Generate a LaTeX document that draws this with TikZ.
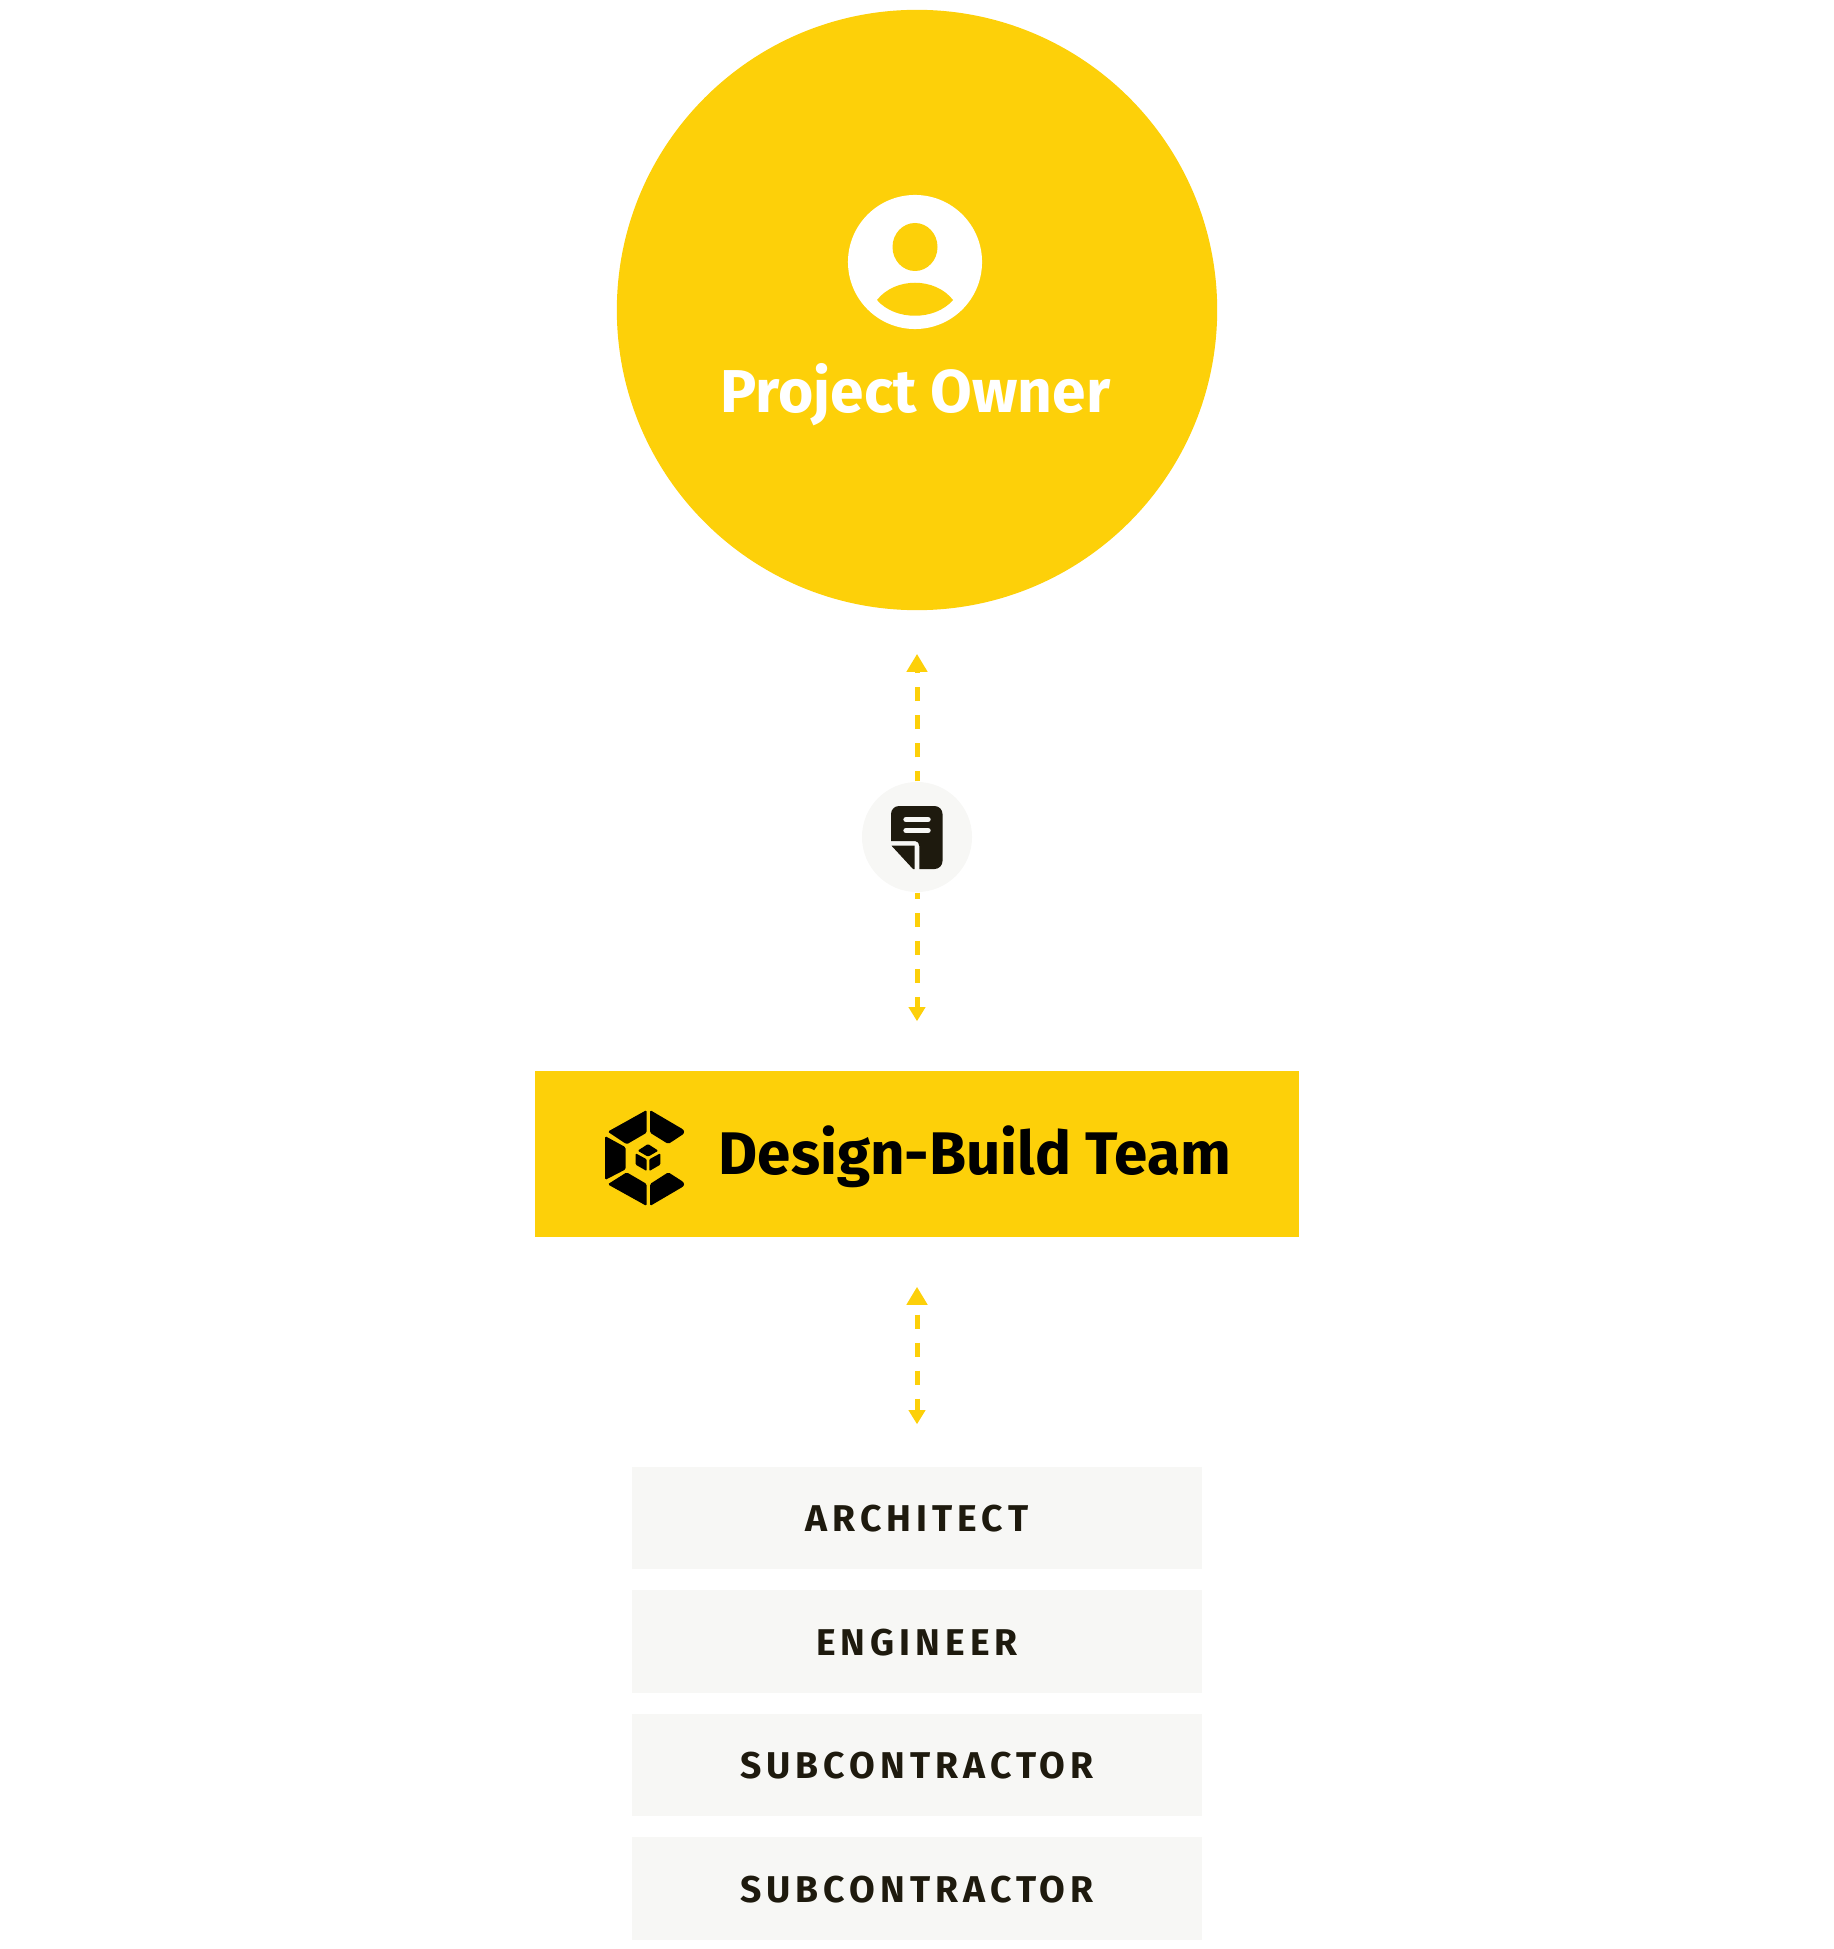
\documentclass[tikz,border=0pt]{standalone}
\usepackage{fontspec}
\setsansfont{Fira Sans}
\newfontfamily\rolefont[LetterSpace=13.5]{Fira Sans}
\usetikzlibrary{arrows.meta, shapes.geometric}
\definecolor{dbyellow}{HTML}{FDD009}
\definecolor{dbgrey}{HTML}{F7F7F5}
\definecolor{dbdark}{HTML}{1E1A0E}
\tikzset{
	rolebox/.style={fill=dbgrey, text=dbdark, minimum width=5.7cm, minimum height=1.02cm, inner sep=0pt, text height=0.277cm, text depth=0pt, font=\rolefont\bfseries\fontsize{10.6}{12}\selectfont},
	linkline/.style={dbyellow, line width=0.05cm, dash pattern=on 0.14cm off 0.14cm},
	bighead/.tip={Triangle[length=0.18cm, width=0.2cm]},
	smallhead/.tip={Triangle[length=0.14cm, width=0.16cm]},
}
\begin{document}
\begin{tikzpicture}[x=0.01cm, y=-0.01cm, font=\sffamily\bfseries]
		\useasboundingbox (0,0) rectangle (1834,1949);
		
		% ---------------------------------------------------------
		% TOP: Owner circle
		% ---------------------------------------------------------
		\node[circle, fill=dbyellow, minimum size=6cm, inner sep=0pt] (owner) at (917,310) {};
		\node[circle, fill=white, minimum size=1.34cm, inner sep=0pt] (person) at (915,262) {};
		\fill[dbyellow] (915,247) ellipse [x radius=22.5, y radius=24];
		\fill[dbyellow] (877,300) .. controls (895,277) and (935,277) .. (953,300) .. controls (935,321) and (895,321) .. (877,300) -- cycle;
		\node[anchor=base, text=white, inner sep=0pt, font=\sffamily\bfseries\fontsize{17.2}{20}\selectfont] (owner_text) at (915.5,413) {Project Owner};
		
		% ---------------------------------------------------------
		% MIDDLE: Contract badge
		% ---------------------------------------------------------
		\node[circle, fill=dbgrey, minimum size=1.1cm, inner sep=0pt] (contract) at (917,837) {};
		\fill[dbdark] (891,841) [rounded corners=0.08cm] -- (891,806) -- (942.5,806) -- (942.5,869) [sharp corners] -- (919.3,869) -- (919.3,846) to[out=90, in=0] (915,841) -- cycle;
		\fill[dbdark] (891.5,845.7) -- (914.7,845.7) -- (914.7,869) -- (913,869) -- cycle;
		\draw[dbgrey, line width=0.054cm, line cap=round] (906,819.5) -- (928,819.5);
		\draw[dbgrey, line width=0.054cm, line cap=round] (906,830.5) -- (928,830.5);
		
		% ---------------------------------------------------------
		% MIDDLE: Design-build team bar
		% ---------------------------------------------------------
		\node[fill=dbyellow, minimum width=7.64cm, minimum height=1.66cm, inner sep=0pt] (team) at (917,1154) {};
		\node[anchor=base, text=black, inner sep=0pt, font=\sffamily\bfseries\fontsize{17.1}{20}\selectfont] (team_text) at (975,1174) {Design-Build Team};
		
		% Logo
		\fill[black, rounded corners=0.015cm] (607.7,1131.7) -- (646.7,1110) -- (646.7,1132.7) -- (626.7,1144.3) -- cycle;
		\fill[black, rounded corners=0.015cm] (650,1110) [rounded corners=0.06cm] -- (687,1131.7) [rounded corners=0.015cm] -- (668.3,1144) -- (650,1132.7) -- cycle;
		\fill[black, rounded corners=0.015cm] (605,1136) -- (625.7,1147.3) -- (625.7,1169.3) -- (605,1180) -- cycle;
		\fill[black, rounded corners=0.015cm] (607.7,1184.3) -- (626.7,1172.3) -- (646.7,1184) -- (646.7,1206) -- cycle;
		\fill[black, rounded corners=0.015cm] (650,1184) -- (668.3,1172.3) [rounded corners=0.06cm] -- (687,1184.3) [rounded corners=0.015cm] -- (650,1206) -- cycle;
		\fill[black, rounded corners=0.01cm] (648,1144) -- (658.3,1150.7) -- (648,1156.7) -- (637.7,1150.7) -- cycle;
		\fill[black, rounded corners=0.01cm] (635.7,1153.3) -- (646.7,1159.3) -- (646.7,1171) -- (635.7,1164.7) -- cycle;
		\fill[black, rounded corners=0.01cm] (649.3,1159.3) -- (660.3,1153.3) -- (660.3,1164.7) -- (649.3,1171) -- cycle;
		
		% ---------------------------------------------------------
		% BOTTOM: Roles
		% ---------------------------------------------------------
		\node[rolebox] (architect) at (917,1518) {ARCHITECT};
		\node[rolebox] (engineer) at (917,1641.5) {ENGINEER};
		\node[rolebox] (subcontractor_a) at (917,1765) {SUBCONTRACTOR};
		\node[rolebox] (subcontractor_b) at (917,1888.5) {SUBCONTRACTOR};
		
		% Links
		\draw[linkline, -{bighead}, dash phase=0.04cm, shorten >=0.43cm] (contract) -- (owner);
		\draw[linkline, -{smallhead}, dash phase=0.08cm, shorten >=0.49cm] (contract) -- (team);
		\draw[linkline, {bighead}-{smallhead}, dash phase=0.17cm, shorten <=0.49cm, shorten >=0.42cm] (team) -- (architect);
		
\end{tikzpicture}
\end{document}
